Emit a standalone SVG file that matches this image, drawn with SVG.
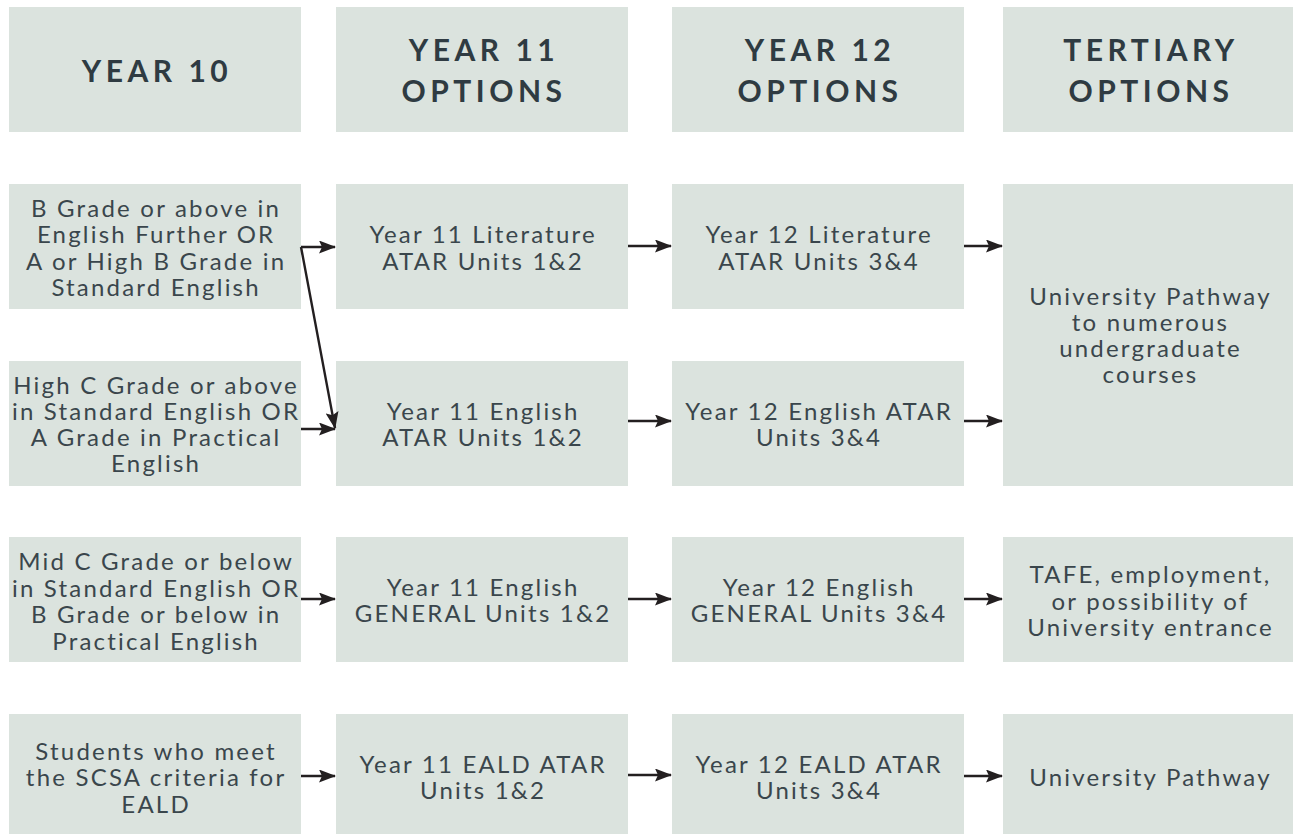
<svg xmlns="http://www.w3.org/2000/svg" width="1293" height="834" viewBox="0 0 1293 834">
<style>
.box{fill:#dbe3de}
.hd{font-family:Lato,"Liberation Sans",sans-serif;font-weight:700;font-size:30px;letter-spacing:4.5px;fill:#2f3b42;text-anchor:middle}
.tx{font-family:Lato,"Liberation Sans",sans-serif;font-size:24px;letter-spacing:2.2px;fill:#3a464c;text-anchor:middle}
.ar{stroke:#231f20;stroke-width:2.4;fill:none;marker-end:url(#ah)}
</style>
<defs>
<marker id="ah" markerWidth="17" markerHeight="13" refX="16" refY="6.5" orient="auto" markerUnits="userSpaceOnUse">
<path d="M0,0 L17,6.5 L0,13 L3,6.5 z" fill="#231f20"/>
</marker>
</defs>
<rect width="1293" height="834" fill="#ffffff"/>

<g id="h10"><rect class="box" x="9" y="7" width="292" height="125"/><text class="hd" x="157" y="82">YEAR 10</text></g>
<g id="h11"><rect class="box" x="336" y="7" width="292" height="125"/><text class="hd" x="484" y="61">YEAR 11<tspan x="484" dy="41">OPTIONS</tspan></text></g>
<g id="h12"><rect class="box" x="672" y="7" width="292" height="125"/><text class="hd" x="820" y="61">YEAR 12<tspan x="820" dy="41">OPTIONS</tspan></text></g>
<g id="htert"><rect class="box" x="1003" y="7" width="292" height="125"/><text class="hd" x="1151" y="61">TERTIARY<tspan x="1151" dy="41">OPTIONS</tspan></text></g>

<g id="r1c1"><rect class="box" x="9" y="184" width="292" height="125"/><text class="tx" x="156.1" y="216.5">B Grade or above in<tspan x="156.1" dy="26.5">English Further OR</tspan><tspan x="156.1" dy="26.5">A or High B Grade in</tspan><tspan x="156.1" dy="26.5">Standard English</tspan></text></g>
<g id="r2c1"><rect class="box" x="9" y="361" width="292" height="125"/><text class="tx" x="156.1" y="394">High C Grade or above<tspan x="156.1" dy="26">in Standard English OR</tspan><tspan x="156.1" dy="26">A Grade in Practical</tspan><tspan x="156.1" dy="26">English</tspan></text></g>
<g id="r3c1"><rect class="box" x="9" y="537" width="292" height="125"/><text class="tx" x="156.1" y="570">Mid C Grade or below<tspan x="156.1" dy="26.5">in Standard English OR</tspan><tspan x="156.1" dy="26.5">B Grade or below in</tspan><tspan x="156.1" dy="26.5">Practical English</tspan></text></g>
<g id="r4c1"><rect class="box" x="9" y="714" width="292" height="125"/><text class="tx" x="156.1" y="759.5">Students who meet<tspan x="156.1" dy="26.5">the SCSA criteria for</tspan><tspan x="156.1" dy="26.5">EALD</tspan></text></g>

<g id="r1c2"><rect class="box" x="336" y="184" width="292" height="125"/><text class="tx" x="483.1" y="243.3">Year 11 Literature<tspan x="483.1" dy="26.3">ATAR Units 1&amp;2</tspan></text></g>
<g id="r2c2"><rect class="box" x="336" y="361" width="292" height="125"/><text class="tx" x="483.1" y="419.5">Year 11 English<tspan x="483.1" dy="26.3">ATAR Units 1&amp;2</tspan></text></g>
<g id="r3c2"><rect class="box" x="336" y="537" width="292" height="125"/><text class="tx" x="483.1" y="596">Year 11 English<tspan x="483.1" dy="26.3">GENERAL Units 1&amp;2</tspan></text></g>
<g id="r4c2"><rect class="box" x="336" y="714" width="292" height="125"/><text class="tx" x="483.1" y="773">Year 11 EALD ATAR<tspan x="483.1" dy="26.3">Units 1&amp;2</tspan></text></g>

<g id="r1c3"><rect class="box" x="672" y="184" width="292" height="125"/><text class="tx" x="819.1" y="243.3">Year 12 Literature<tspan x="819.1" dy="26.3">ATAR Units 3&amp;4</tspan></text></g>
<g id="r2c3"><rect class="box" x="672" y="361" width="292" height="125"/><text class="tx" x="819.1" y="419.5">Year 12 English ATAR<tspan x="819.1" dy="26.3">Units 3&amp;4</tspan></text></g>
<g id="r3c3"><rect class="box" x="672" y="537" width="292" height="125"/><text class="tx" x="819.1" y="596">Year 12 English<tspan x="819.1" dy="26.3">GENERAL Units 3&amp;4</tspan></text></g>
<g id="r4c3"><rect class="box" x="672" y="714" width="292" height="125"/><text class="tx" x="819.1" y="773">Year 12 EALD ATAR<tspan x="819.1" dy="26.3">Units 3&amp;4</tspan></text></g>

<g id="uni"><rect class="box" x="1003" y="184" width="292" height="302"/><text class="tx" x="1150.5" y="305">University Pathway<tspan x="1150.5" dy="26">to numerous</tspan><tspan x="1150.5" dy="26">undergraduate</tspan><tspan x="1150.5" dy="26">courses</tspan></text></g>
<g id="tafe"><rect class="box" x="1003" y="537" width="292" height="125"/><text class="tx" x="1150.5" y="583">TAFE, employment,<tspan x="1150.5" dy="26.5">or possibility of</tspan><tspan x="1150.5" dy="26.5">University entrance</tspan></text></g>
<g id="unipath"><rect class="box" x="1003" y="714" width="292" height="125"/><text class="tx" x="1150.5" y="786">University Pathway</text></g>

<g id="connectors">
<path class="ar" d="M301,247 H335"/>
<path class="ar" d="M301,247 L335,428"/>
<path class="ar" d="M301,429 H335"/>
<path class="ar" d="M628,246 H671"/>
<path class="ar" d="M964,246 H1002"/>
<path class="ar" d="M628,421 H671"/>
<path class="ar" d="M964,421 H1002"/>
<path class="ar" d="M301,599 H335"/>
<path class="ar" d="M628,599 H671"/>
<path class="ar" d="M964,599 H1002"/>
<path class="ar" d="M301,776 H335"/>
<path class="ar" d="M628,775 H671"/>
<path class="ar" d="M964,776 H1002"/>
</g>
</svg>
